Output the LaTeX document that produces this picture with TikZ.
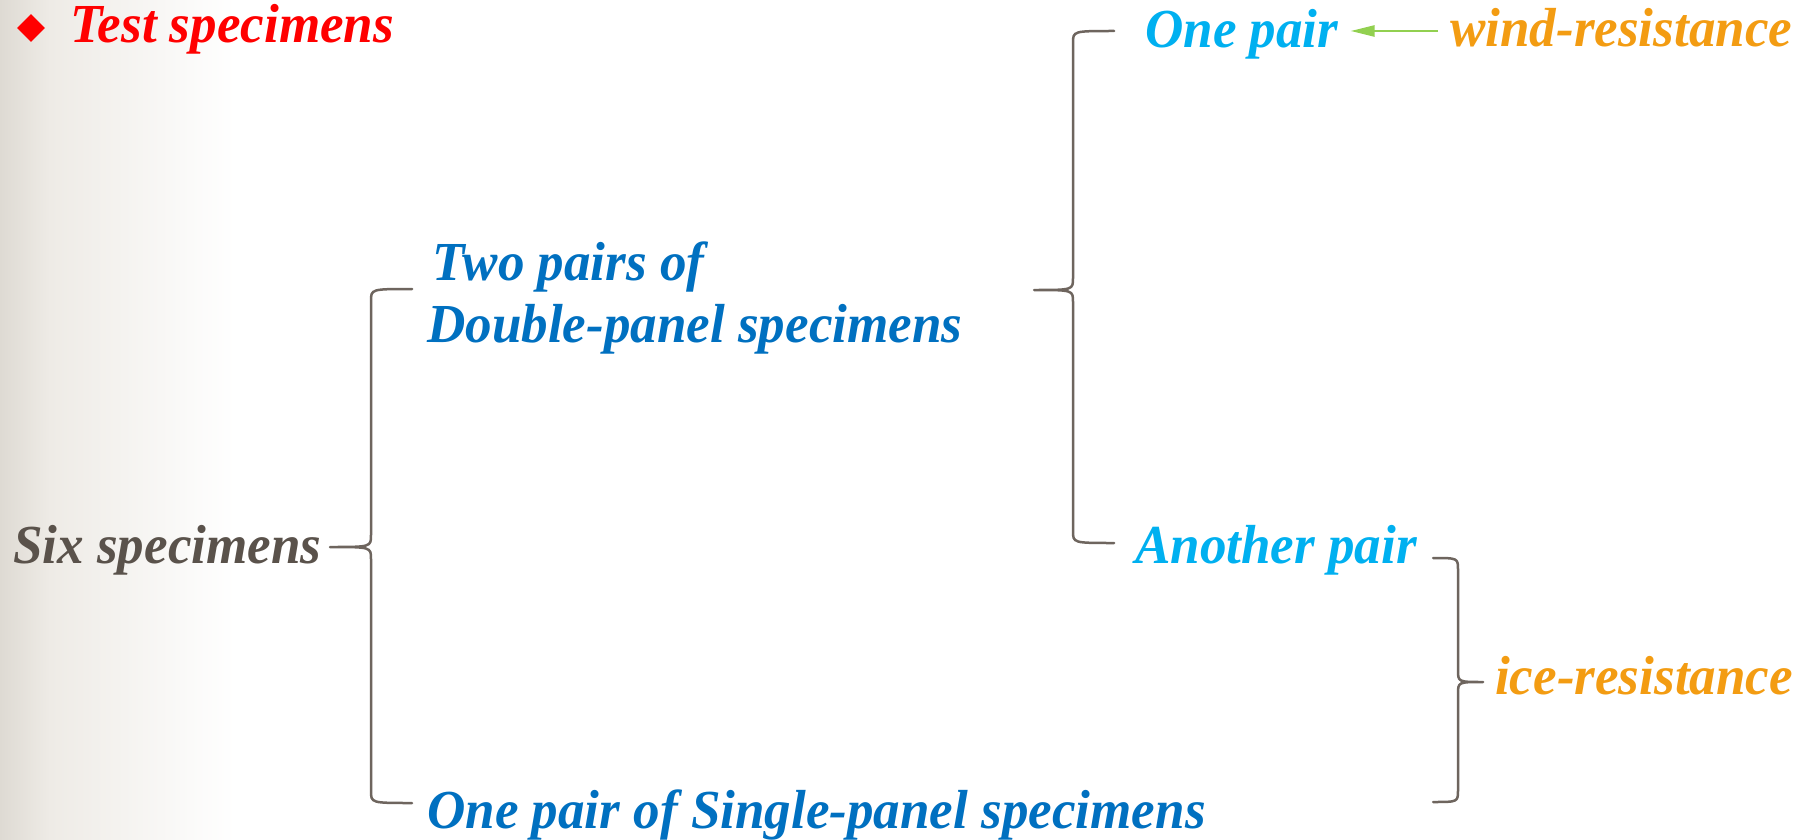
\documentclass[tikz,border=0pt]{standalone}
\usepackage{fontspec}
\setmainfont{Liberation Serif}[FakeStretch=0.965]
\usetikzlibrary{arrows.meta,shapes.geometric}
\definecolor{cRed}{HTML}{FF0000}
\definecolor{cDark}{HTML}{0070C0}
\definecolor{cLight}{HTML}{00B0F0}
\definecolor{cOrange}{HTML}{F39C12}
\definecolor{cGray}{HTML}{5A524B}
\definecolor{cGreen}{HTML}{92D050}
\definecolor{cBrace}{HTML}{6E655E}
\definecolor{cBgA}{HTML}{DEDAD3}
\definecolor{cBgB}{HTML}{EEEBE6}
\newcommand{\mybrace}[6]{% xe, yt, xv, ym, xt, yb
  \draw[brc] (#1,#2) .. controls (#3,#2) .. (#3,#2+12) -- (#3,#4-12)
    .. controls (#3,#4) .. (#5,#4) .. controls (#3,#4) .. (#3,#4+12)
    -- (#3,#6-12) .. controls (#3,#6) .. (#1,#6);}
\begin{document}
\begin{tikzpicture}[x=1pt,y=-1pt,
  txt/.style={inner sep=0pt, anchor=base west, font=\fontsize{55}{60}\selectfont\bfseries\itshape},
  brc/.style={draw=cBrace, line width=2.5pt, line cap=round, line join=round},
  greenarrow/.style={draw=cGreen, line width=2.5pt, -{Triangle[length=24pt,width=11pt]}}]
\useasboundingbox (0,0) rectangle (1802,840);
\fill[white] (0,0) rectangle (1802,840);
\shade[left color=cBgA, right color=cBgB] (0,0) rectangle (50,840);
\shade[left color=cBgB, right color=white] (50,0) rectangle (235,840);
% title
\node[diamond, fill=cRed, minimum width=28pt, minimum height=28pt, inner sep=0pt] (bullet) at (31,28) {};
\node[txt, text=cRed] (title) at (70,43) {Test specimens};
% texts
\node[txt, text=cGray] (six) at (13,563) {Six specimens};
\node[txt, text=cDark] (two1) at (432,280) {Two pairs of};
\node[txt, text=cDark] (two2) at (427,342) {Double-panel specimens};
\node[txt, text=cDark] (single) at (427,828) {One pair of Single-panel specimens};
\node[txt, text=cLight] (onepair) at (1145,48) {One pair};
\node[txt, text=cLight] (another) at (1135,563) {Another pair};
\node[txt, text=cOrange] (wind) at (1450,47) {wind-resistance};
\node[txt, text=cOrange] (ice) at (1495,694) {ice-resistance};
% braces
\mybrace{412}{289}{371}{547}{330}{803}
\mybrace{1114}{31}{1073}{290}{1034}{543}
\mybrace{1433}{558}{1458}{682}{1483}{802}
% arrow
\draw[greenarrow] ([xshift=-12pt,yshift=16pt]wind.base west) -- ([xshift=12pt,yshift=17pt]onepair.base east);
\end{tikzpicture}
\end{document}
